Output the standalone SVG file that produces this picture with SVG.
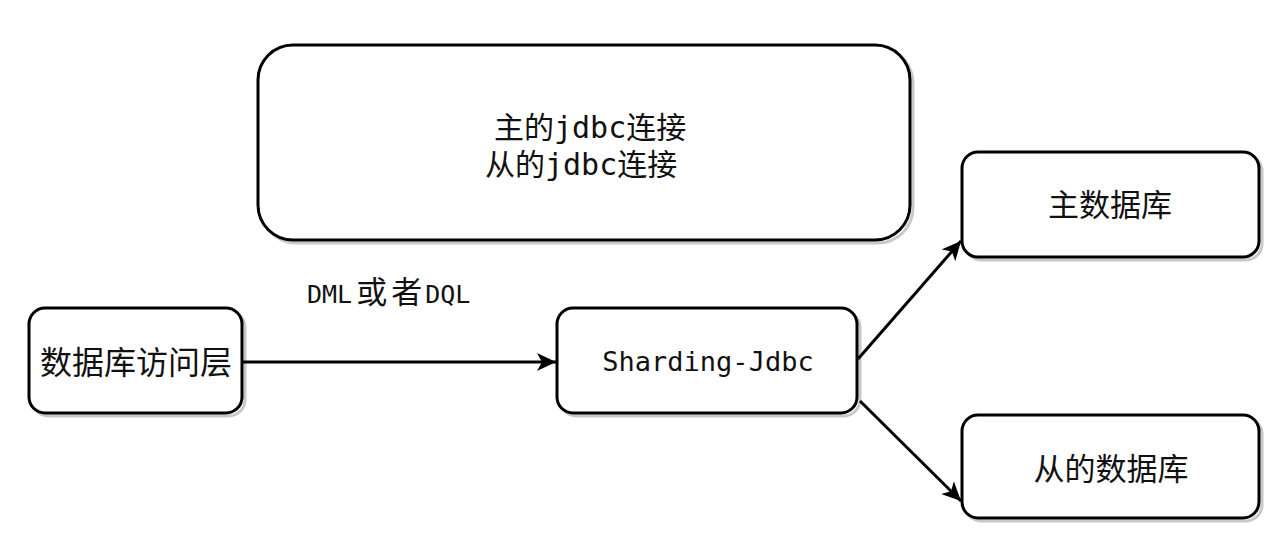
<svg xmlns="http://www.w3.org/2000/svg" width="1272" height="553" viewBox="0 0 1272 553">
  <defs>
    <marker id="arrow" markerUnits="userSpaceOnUse" markerWidth="22" markerHeight="20" refX="19" refY="9" orient="auto">
      <path d="M0,0 L19,9 L0,18 L5,9 Z" fill="#000"/>
    </marker>
  </defs>
  <style>
    .box { fill: #fff; stroke: #000; stroke-width: 3; }
    .shadow { fill: none; stroke: #c8c8c8; stroke-width: 3; }
    .cjk { font-family: "Noto Sans CJK SC", "Noto Sans", sans-serif; fill: #111; }
    .mono { font-family: "DejaVu Sans Mono", "Noto Sans CJK SC", monospace; fill: #111; }
    .edge { stroke: #000; stroke-width: 3; fill: none; }
  </style>
  <rect width="1272" height="553" fill="#fff"/>

  <g id="conn-pool">
    <rect class="shadow" x="261" y="48" width="652" height="195" rx="35"/>
    <rect class="box" x="258" y="45" width="652" height="195" rx="35"/>
    <text class="mono" font-size="30" x="494" y="138">主的jdbc连接</text>
    <text class="mono" font-size="30" x="485" y="175">从的jdbc连接</text>
  </g>

  <g id="access-layer">
    <rect class="shadow" x="32" y="311" width="213" height="105" rx="16"/>
    <rect class="box" x="29" y="308" width="213" height="105" rx="16"/>
    <text class="cjk" font-size="32" x="136" y="374" text-anchor="middle">数据库访问层</text>
  </g>

  <g id="sharding-jdbc">
    <rect class="shadow" x="560" y="311" width="300" height="105" rx="16"/>
    <rect class="box" x="557" y="308" width="300" height="105" rx="16"/>
    <text class="mono" font-size="27" x="708" y="371" text-anchor="middle">Sharding-Jdbc</text>
  </g>

  <g id="master-db">
    <rect class="shadow" x="965" y="155" width="297" height="105" rx="16"/>
    <rect class="box" x="962" y="152" width="297" height="105" rx="16"/>
    <text class="cjk" font-size="31" x="1110" y="216" text-anchor="middle">主数据库</text>
  </g>

  <g id="slave-db">
    <rect class="shadow" x="965" y="418" width="297" height="103" rx="16"/>
    <rect class="box" x="962" y="415" width="297" height="103" rx="16"/>
    <text class="cjk" font-size="31" x="1111" y="480" text-anchor="middle">从的数据库</text>
  </g>

  <g id="connectors">
    <line class="edge" x1="242" y1="362" x2="556" y2="362" marker-end="url(#arrow)"/>
    <line class="edge" x1="858" y1="359" x2="961" y2="241" marker-end="url(#arrow)"/>
    <line class="edge" x1="860" y1="401" x2="961" y2="501" marker-end="url(#arrow)"/>
    <text x="307" y="303" class="mono" font-size="25">DML<tspan class="cjk" font-size="31" dx="4">或</tspan><tspan class="cjk" font-size="31" dx="4">者</tspan><tspan dx="3">DQL</tspan></text>
  </g>
</svg>
